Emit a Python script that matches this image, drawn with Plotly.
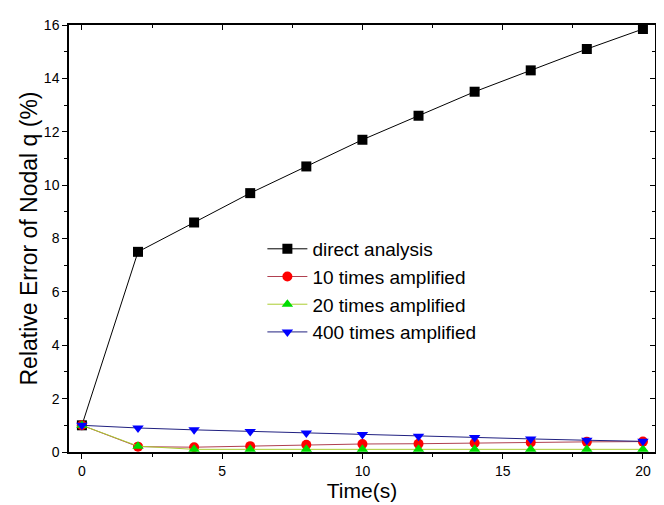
import plotly.graph_objects as go

time_s = [0, 2, 4, 6, 8, 10, 12, 14, 16, 18, 20]
direct_analysis = [1.0, 7.5, 8.6, 9.7, 10.7, 11.7, 12.6, 13.5, 14.3, 15.1, 15.85]
amp_10 = [1.0, 0.2, 0.18, 0.22, 0.27, 0.3, 0.31, 0.34, 0.36, 0.38, 0.39]
amp_20 = [1.0, 0.22, 0.1, 0.1, 0.1, 0.1, 0.1, 0.1, 0.1, 0.1, 0.1]
amp_400 = [1.0, 0.9, 0.83, 0.77, 0.71, 0.66, 0.59, 0.54, 0.49, 0.44, 0.4]

x_ticks = [0, 5, 10, 15, 20]
y_ticks = [0, 2, 4, 6, 8, 10, 12, 14, 16]

series = [
    ("direct analysis", direct_analysis, "#000000", "#000000", "square"),
    ("10 times amplified", amp_10, "#ff0000", "#b04050", "circle"),
    ("20 times amplified", amp_20, "#00dd00", "#aacc30", "triangle-up"),
    ("400 times amplified", amp_400, "#0000ff", "#202080", "triangle-down"),
]

fig = go.Figure()
for name, vals, mc, lc, sym in series:
    fig.add_trace(go.Scatter(
        x=time_s, y=vals, name=name, mode="lines+markers",
        line=dict(color=lc, width=1),
        marker=dict(symbol=sym, size=10, color=mc),
        cliponaxis=False,
    ))
# empty trace to activate mirrored (top/right) axes with inward ticks
fig.add_trace(go.Scatter(x=[], y=[], xaxis="x2", yaxis="y2", showlegend=False, hoverinfo="skip"))

font = "Liberation Sans, Arial, sans-serif"
xr = [-0.46, 20.43]
yr = [0, 16]
fig.update_layout(
    width=664, height=505,
    margin=dict(l=61, r=17, t=9, b=61),
    paper_bgcolor="white", plot_bgcolor="white",
    font=dict(family=font, color="black"),
    legend=dict(x=0.33, y=0.52, xanchor="left", yanchor="top",
                bgcolor="rgba(0,0,0,0)", font=dict(size=19, family=font),
                tracegroupgap=0, itemwidth=40),
    xaxis=dict(range=xr, tickvals=x_ticks,
               ticks="outside", ticklen=5, tickwidth=1, tickcolor="black",
               minor=dict(dtick=2.5, tick0=0, ticks="outside", ticklen=3, tickcolor="black"),
               showline=True, linecolor="black", linewidth=1.5, mirror=True,
               showgrid=False, zeroline=False,
               tickfont=dict(size=14),
               title=dict(text="Time(s)", font=dict(size=21), standoff=0)),
    yaxis=dict(range=yr, tickvals=y_ticks,
               ticks="outside", ticklen=5, tickwidth=1, tickcolor="black",
               minor=dict(dtick=1, tick0=0, ticks="outside", ticklen=3, tickcolor="black"),
               showline=True, linecolor="black", linewidth=1.5, mirror=True,
               showgrid=False, zeroline=False,
               tickfont=dict(size=14),
               title=dict(text="Relative Error of Nodal q (%)", font=dict(size=23), standoff=0)),
    xaxis2=dict(range=xr, overlaying="x", side="top", anchor="y2", tickvals=x_ticks,
                ticks="inside", ticklen=5, tickcolor="black", showticklabels=False,
                minor=dict(dtick=2.5, tick0=0, ticks="inside", ticklen=3, tickcolor="black"),
                showline=False, showgrid=False, zeroline=False),
    yaxis2=dict(range=yr, overlaying="y", side="right", anchor="x2", tickvals=y_ticks,
                ticks="inside", ticklen=5, tickcolor="black", showticklabels=False,
                minor=dict(dtick=1, tick0=0, ticks="inside", ticklen=3, tickcolor="black"),
                showline=False, showgrid=False, zeroline=False),
)
fig.write_html("out.html")
